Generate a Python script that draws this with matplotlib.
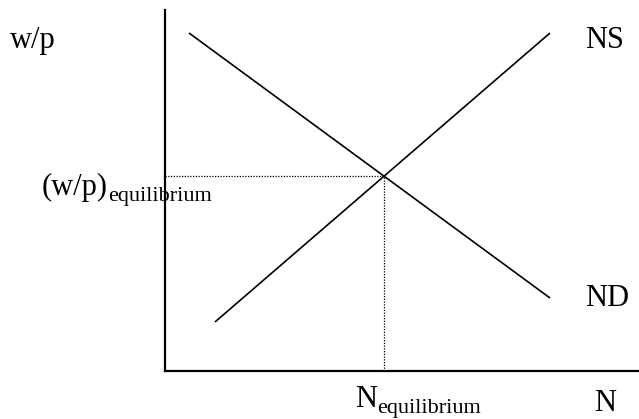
import matplotlib
matplotlib.use("Agg")
import matplotlib.pyplot as plt
import numpy as np

# Data (axis units: origin at the corner of the axes)
ns_x = [5.0, 38.5]
ns_y = [4.9, 33.8]
nd_x = [2.4, 38.5]
nd_y = [33.8, 7.3]
x_max = 47.4
y_max = 36.1

# labels
lbl_y = "w/p"
lbl_x = "N"
lbl_ns = "NS"
lbl_nd = "ND"
lbl_weq_main = "(w/p)"
lbl_neq_main = "N"
lbl_sub = "equilibrium"

# intersection of the two lines
a1 = (ns_y[1] - ns_y[0]) / (ns_x[1] - ns_x[0])
a2 = (nd_y[1] - nd_y[0]) / (nd_x[1] - nd_x[0])
xe = (nd_y[0] - ns_y[0] + a1 * ns_x[0] - a2 * nd_x[0]) / (a1 - a2)
ye = ns_y[0] + a1 * (xe - ns_x[0])

W, H = 639, 419
fig = plt.figure(figsize=(W / 100, H / 100), dpi=100)
ax = fig.add_axes([165 / W, (H - 371) / H, (W - 165) / W, 361 / H])
ax.set_xlim(0, x_max)
ax.set_ylim(0, y_max)
for s in ["top", "right"]:
    ax.spines[s].set_visible(False)
for s in ["left", "bottom"]:
    ax.spines[s].set_linewidth(1.6)
    ax.spines[s].set_color("black")
ax.set_xticks([])
ax.set_yticks([])
ax.patch.set_visible(False)

ax.plot(ns_x, ns_y, color="black", lw=1.2, solid_capstyle="butt")
ax.plot(nd_x, nd_y, color="black", lw=1.2, solid_capstyle="butt")
ax.plot([0, xe], [ye, ye], color="black", lw=0.9, ls=(0, (1, 1.2)))
ax.plot([xe, xe], [0, ye], color="black", lw=0.9, ls=(0, (1, 1.2)))

font = "Liberation Serif"
big = 22
small = 16


def t(x, y, s, size):
    fig.text(x / W, 1 - y / H, s, fontsize=size, family=font,
             ha="left", va="baseline", color="black")


t(10, 48, lbl_y, big)
t(585, 48, lbl_ns, big)
t(585, 306, lbl_nd, big)
t(42, 195, lbl_weq_main, big)
t(108, 201, lbl_sub, small)
t(355, 407, lbl_neq_main, big)
t(377, 413, lbl_sub, small)
t(594, 411, lbl_x, big)

fig.savefig("out.png", dpi=100)
